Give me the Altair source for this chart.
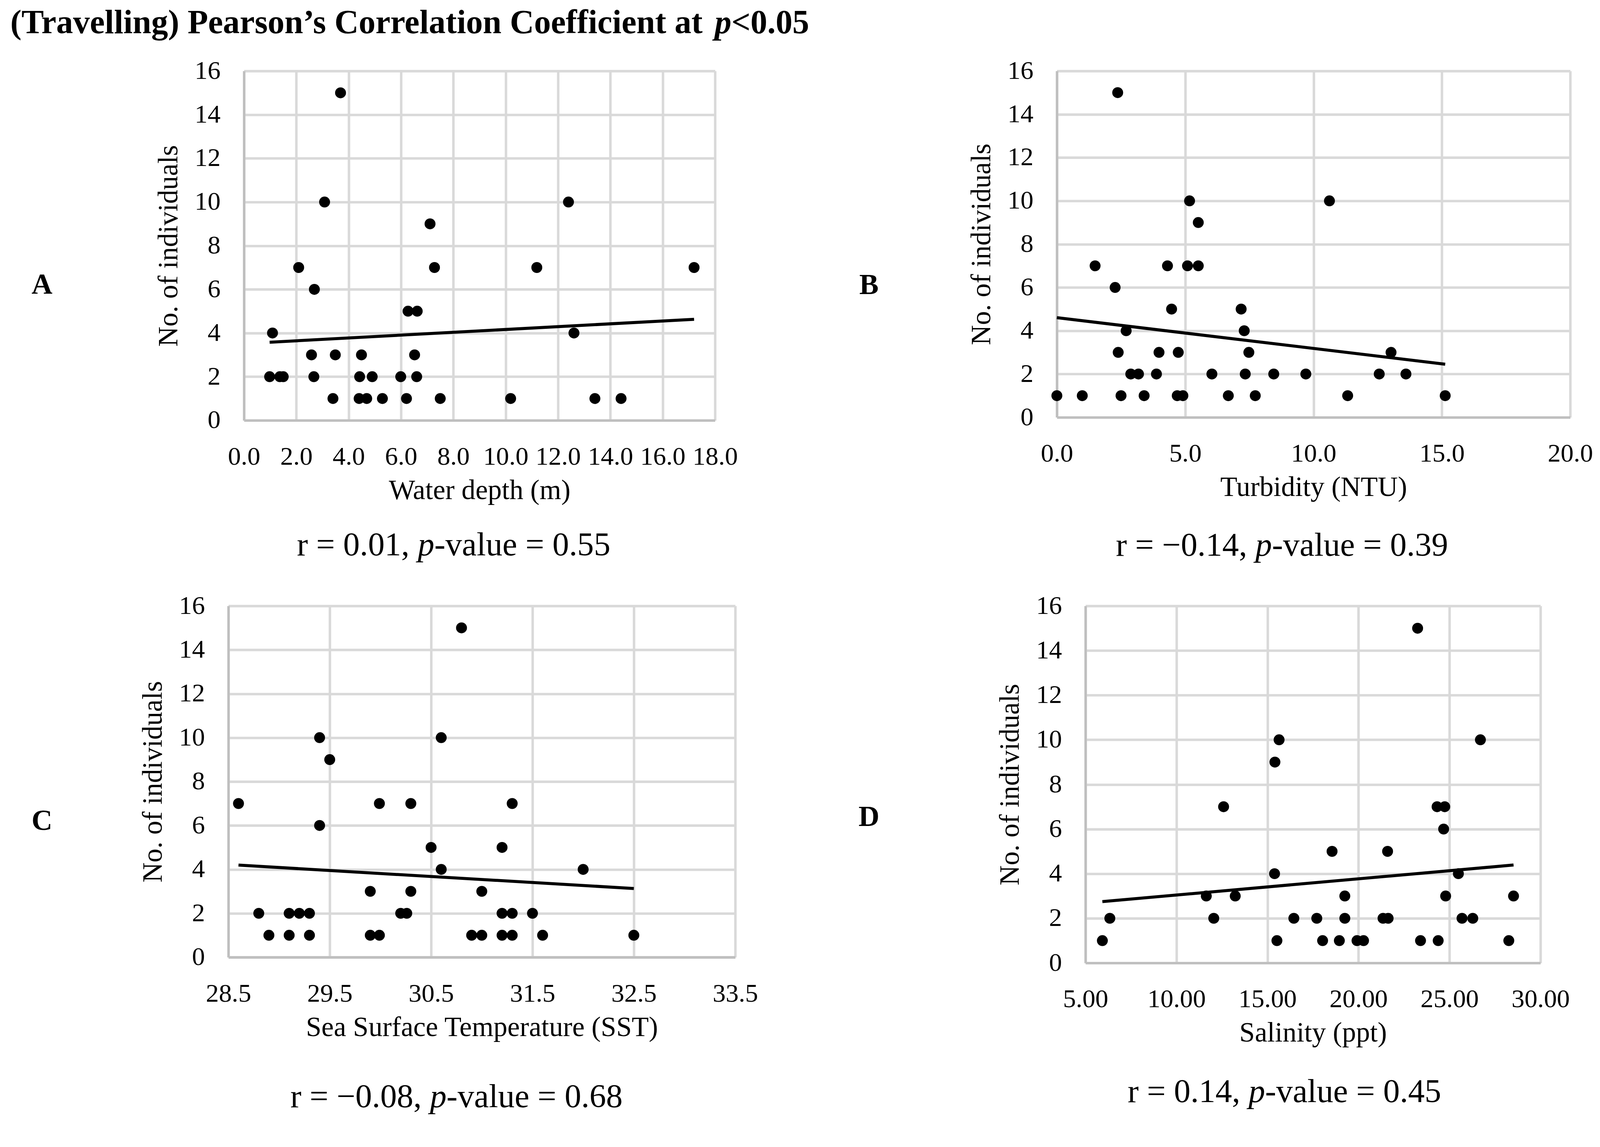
import altair as alt
import pandas as pd

FONT = "Liberation Serif"

# ---------------- data ----------------
# Panel A: Water depth (m)
a_x = [0.98, 1.37, 1.50, 2.67, 4.42, 4.90, 5.99, 6.60,
       3.40, 4.40, 4.69, 5.29, 6.21, 7.50, 10.19, 13.41, 14.41,
       2.58, 3.49, 4.49, 6.52,
       1.09, 12.61,
       6.27, 6.62,
       2.69,
       2.09, 7.28, 11.19, 17.20,
       7.11,
       3.08, 12.40,
       3.69]
a_y = [2, 2, 2, 2, 2, 2, 2, 2,
       1, 1, 1, 1, 1, 1, 1, 1, 1,
       3, 3, 3, 3,
       4, 4,
       5, 5,
       6,
       7, 7, 7, 7,
       9,
       10, 10,
       15]

# Panel B: Turbidity (NTU)
b_x = [0.00, 0.99, 2.50, 3.40, 4.69, 4.91, 6.68, 7.73, 11.33, 15.13,
       2.88, 3.18, 3.88, 6.04, 7.34, 8.45, 9.70, 12.56, 13.60,
       2.39, 3.98, 4.73, 7.48, 13.02,
       2.70, 7.30,
       4.47, 7.18,
       2.27,
       1.49, 4.31, 5.09, 5.51,
       5.51,
       5.17, 10.62,
       2.37]
b_y = [1, 1, 1, 1, 1, 1, 1, 1, 1, 1,
       2, 2, 2, 2, 2, 2, 2, 2, 2,
       3, 3, 3, 3, 3,
       4, 4,
       5, 5,
       6,
       7, 7, 7, 7,
       9,
       10, 10,
       15]

# Panel C: Sea Surface Temperature (SST)
c_x = [28.90, 29.10, 29.30, 29.90, 29.99, 30.90, 31.00, 31.20, 31.30, 31.60, 32.50,
       28.80, 29.10, 29.20, 29.30, 30.20, 30.26, 31.20, 31.30, 31.50,
       29.90, 30.30, 31.00,
       30.60, 32.00,
       30.50, 31.20,
       29.40,
       28.60, 29.99, 30.30, 31.30,
       29.50,
       29.40, 30.60,
       30.80]
c_y = [1, 1, 1, 1, 1, 1, 1, 1, 1, 1, 1,
       2, 2, 2, 2, 2, 2, 2, 2, 2,
       3, 3, 3,
       4, 4,
       5, 5,
       6,
       7, 7, 7, 7,
       9,
       10, 10,
       15]

# Panel D: Salinity (ppt)
d_x = [5.93, 15.52, 18.03, 18.95, 19.92, 20.28, 23.41, 24.38, 28.26,
       6.34, 12.05, 16.45, 17.71, 19.25, 21.35, 21.63, 25.69, 26.28,
       11.64, 13.23, 19.25, 24.79, 28.52,
       15.39, 25.49,
       18.55, 21.60,
       24.68,
       12.59, 24.32, 24.74,
       15.41,
       15.64, 26.70,
       23.25]
d_y = [1, 1, 1, 1, 1, 1, 1, 1, 1,
       2, 2, 2, 2, 2, 2, 2, 2, 2,
       3, 3, 3, 3, 3,
       4, 4,
       5, 5,
       6,
       7, 7, 7,
       9,
       10, 10,
       15]

x_titles = ["Water depth (m)", "Turbidity (NTU)",
            "Sea Surface Temperature (SST)", "Salinity (ppt)"]
x_ticks = [[0, 2, 4, 6, 8, 10, 12, 14, 16, 18],
           [0, 5, 10, 15, 20],
           [28.5, 29.5, 30.5, 31.5, 32.5, 33.5],
           [5, 10, 15, 20, 25, 30]]
x_formats = [".1f", ".1f", ".1f", ".2f"]
y_ticks = [0, 2, 4, 6, 8, 10, 12, 14, 16]
letters = ["A", "B", "C", "D"]
r_left = ["r = 0.01,", "r = \u22120.14,", "r = \u22120.08,", "r = 0.14,"]
r_right = ["-value = 0.55", "-value = 0.39", "-value = 0.68", "-value = 0.45"]
title_main = "(Travelling) Pearson\u2019s Correlation Coefficient at"
title_tail = "<0.05"

R_SIZE = 87
T_SIZE = 88


def txt(s, x, y, size, align="left", weight="normal", style="normal"):
    return alt.Chart(pd.DataFrame({"t": [s]})).mark_text(
        font=FONT, fontSize=size, fontWeight=weight, fontStyle=style,
        align=align, baseline="middle", color="black"
    ).encode(x=alt.value(x), y=alt.value(y), text="t:N")


def panel(xs, ys, ticks, fmt, xtitle, w, h, letter, lpos, rl, rr, rpos,
          title=False):
    df = pd.DataFrame({"x": xs, "y": ys})
    xscale = alt.Scale(domain=[ticks[0], ticks[-1]], nice=False, zero=False)
    yscale = alt.Scale(domain=[0, 16], nice=False)
    xaxis = alt.Axis(values=ticks, format=fmt, title=xtitle)
    yaxis = alt.Axis(values=y_ticks, format="d", title="No. of individuals")
    pts = alt.Chart(df).mark_circle(size=820, color="black", opacity=1).encode(
        x=alt.X("x:Q", scale=xscale, axis=xaxis),
        y=alt.Y("y:Q", scale=yscale, axis=yaxis),
    )
    line = alt.Chart(df).transform_regression("x", "y").mark_line(
        color="black", strokeWidth=8
    ).encode(x="x:Q", y="y:Q")
    px, py = rpos
    pw = R_SIZE * 0.5
    layers = [
        pts, line,
        txt(letter, lpos[0], lpos[1], 76, align="center", weight="bold"),
        txt(rl, px - R_SIZE * 0.25, py, R_SIZE, align="right"),
        txt("p", px, py, R_SIZE, style="italic"),
        txt(rr, px + pw, py, R_SIZE),
    ]
    if title:
        tx, ty = -613, -125
        pxx = tx + T_SIZE * 21.0
        layers += [
            txt(title_main, tx, ty, T_SIZE, weight="bold"),
            txt("p", pxx, ty, T_SIZE, weight="bold", style="italic"),
            txt(title_tail, pxx + T_SIZE * 0.5, ty, T_SIZE, weight="bold"),
        ]
    return alt.layer(*layers).properties(width=w, height=h)


def spacer(w):
    return alt.Chart(pd.DataFrame({"t": [0]})).mark_point(size=1, opacity=0).encode(
        x=alt.value(0), y=alt.value(0)
    ).properties(width=w, height=1)


A = panel(a_x, a_y, x_ticks[0], x_formats[0], x_titles[0], 1236, 917,
          letters[0], (-530, 561), r_left[0], r_right[0], (456, 1245), title=True)
B = panel(b_x, b_y, x_ticks[1], x_formats[1], x_titles[1], 1347, 909,
          letters[1], (-493, 562), r_left[1], r_right[1], (521, 1246))
C = panel(c_x, c_y, x_ticks[2], x_formats[2], x_titles[2], 1330, 922,
          letters[2], (-489, 565), r_left[2], r_right[2], (529, 1290))
D = panel(d_x, d_y, x_ticks[3], x_formats[3], x_titles[3], 1194, 937,
          letters[3], (-568, 555), r_left[3], r_right[3], (428, 1276))

# row 1: small spacer shifts A 41px right of C; second spacer sets the A-B gap
row1 = alt.hconcat(spacer(1), A, spacer(817), B, spacing=40, bounds="flush")
row2 = alt.hconcat(C, D, spacing=919, bounds="flush")

chart = alt.vconcat(row1, row2, spacing=81).properties(
    padding={"left": 19, "top": -27, "right": 10, "bottom": 10},
    background="white",
).configure_view(stroke=None).configure_axis(
    domainColor="#BFBFBF", domainWidth=6.5,
    gridColor="#D9D9D9", gridWidth=6.5,
    ticks=False,
    labelFont=FONT, labelFontSize=68, labelColor="black", labelPadding=62,
    titleFont=FONT, titleFontSize=73, titleFontWeight="normal", titleColor="black",
    labelFlush=False, labelOverlap=False,
).configure_axisX(titlePadding=18).configure_axisY(titlePadding=30)

chart.save("out.html", embed_options={"renderer": "svg", "actions": False})
